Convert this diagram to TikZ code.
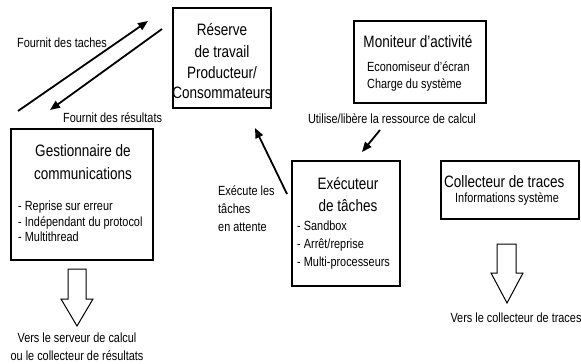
\documentclass[tikz,border=0pt]{standalone}
\usepackage{fontspec}
\setmainfont{Liberation Sans}[FakeStretch=0.82]
\usetikzlibrary{arrows.meta}
\tikzset{
  box/.style={draw, line width=1.8pt, inner sep=0},
  big/.style={font=\fontsize{16.5}{19}\selectfont, inner sep=0, anchor=base},
  bigl/.style={big, anchor=base west},
  small/.style={font=\fontsize{13.3}{16}\selectfont, inner sep=0, anchor=base},
  smalll/.style={small, anchor=base west},
  flow/.style={line width=1.8pt, -{Triangle[length=10pt,width=8pt]}},
  hollow/.style={draw, line width=1pt, line join=miter}
}
\begin{document}
\begin{tikzpicture}[x=1pt,y=-1pt]
\useasboundingbox (0,0) rectangle (581,364);
% boxes
\node[box, minimum width=98pt, minimum height=100pt] (reserve) at (222,58) {};
\node[box, minimum width=132pt, minimum height=82pt] (moniteur) at (420,62) {};
\node[box, minimum width=142pt, minimum height=131pt] (gest) at (82,194.5) {};
\node[box, minimum width=108pt, minimum height=125pt] (exec) at (346,223.5) {};
\node[box, minimum width=138pt, minimum height=58pt] (coll) at (510,190) {};
% Réserve
\node[big] (r1) at (222,35) {Réserve};
\node[big] (r2) at (222,57) {de travail};
\node[big] (r3) at (222,78) {Producteur/};
\node[big] (r4) at (222,98) {Consommateurs};
% Moniteur
\node[big] (m1) at (418,47) {Moniteur d’activité};
\node[smalll] (m2) at (367,71) {Economiseur d’écran};
\node[smalll] (m3) at (367,88) {Charge du système};
% Gestionnaire
\node[big] (g1) at (83,156) {Gestionnaire de};
\node[big] (g2) at (83,179) {communications};
\node[smalll] (g3) at (18,210) {- Reprise sur erreur};
\node[smalll] (g4) at (18,226) {- Indépendant du protocol};
\node[smalll] (g5) at (18,241) {- Multithread};
% Exécuteur
\node[big] (e1) at (348,189) {Exécuteur};
\node[big] (e2) at (348,211) {de tâches};
\node[smalll] (e3) at (297,230) {- Sandbox};
\node[smalll] (e4) at (297,248) {- Arrêt/reprise};
\node[smalll] (e5) at (297,266) {- Multi-processeurs};
% Collecteur
\node[bigl] (c1) at (444,187) {Collecteur de traces};
\node[smalll] (c2) at (455,202) {Informations système};
% labels
\node[smalll] (lt) at (17,47) {Fournit des taches};
\node[smalll] (lr) at (63,122) {Fournit des résultats};
\node[small] (lu) at (392,123) {Utilise/libère la ressource de calcul};
\node[smalll] (le1) at (218,195) {Exécute les};
\node[smalll] (le2) at (218,213) {tâches};
\node[smalll] (le3) at (218,231) {en attente};
\node[small] (lv1) at (77,342) {Vers le serveur de calcul};
\node[small] (lv2) at (77,360) {ou le collecteur de résultats};
\node[small] (lc) at (516,322) {Vers le collecteur de traces};
% arrow end points
\coordinate (a1s) at (18,111); \coordinate (a1e) at (148,21);
\coordinate (a2s) at (162,29); \coordinate (a2e) at (50,110);
\coordinate (a3s) at (287,194); \coordinate (a3e) at (255,128);
\coordinate (a4s) at (380,130); \coordinate (a4e) at (362,152);
\draw[flow] (a1s) -- (a1e);
\draw[flow] (a2s) -- (a2e);
\draw[flow] (a3s) -- (a3e);
\draw[flow] (a4s) -- (a4e);
% hollow arrows
\draw[hollow] (68,269) -- (86,269) -- (86,299) -- (93,299) -- (77,326) -- (61,299) -- (68,299) -- cycle;
\draw[hollow] (497,244) -- (516,244) -- (516,273) -- (523,273) -- (507,303) -- (491,273) -- (497,273) -- cycle;
\end{tikzpicture}
\end{document}
